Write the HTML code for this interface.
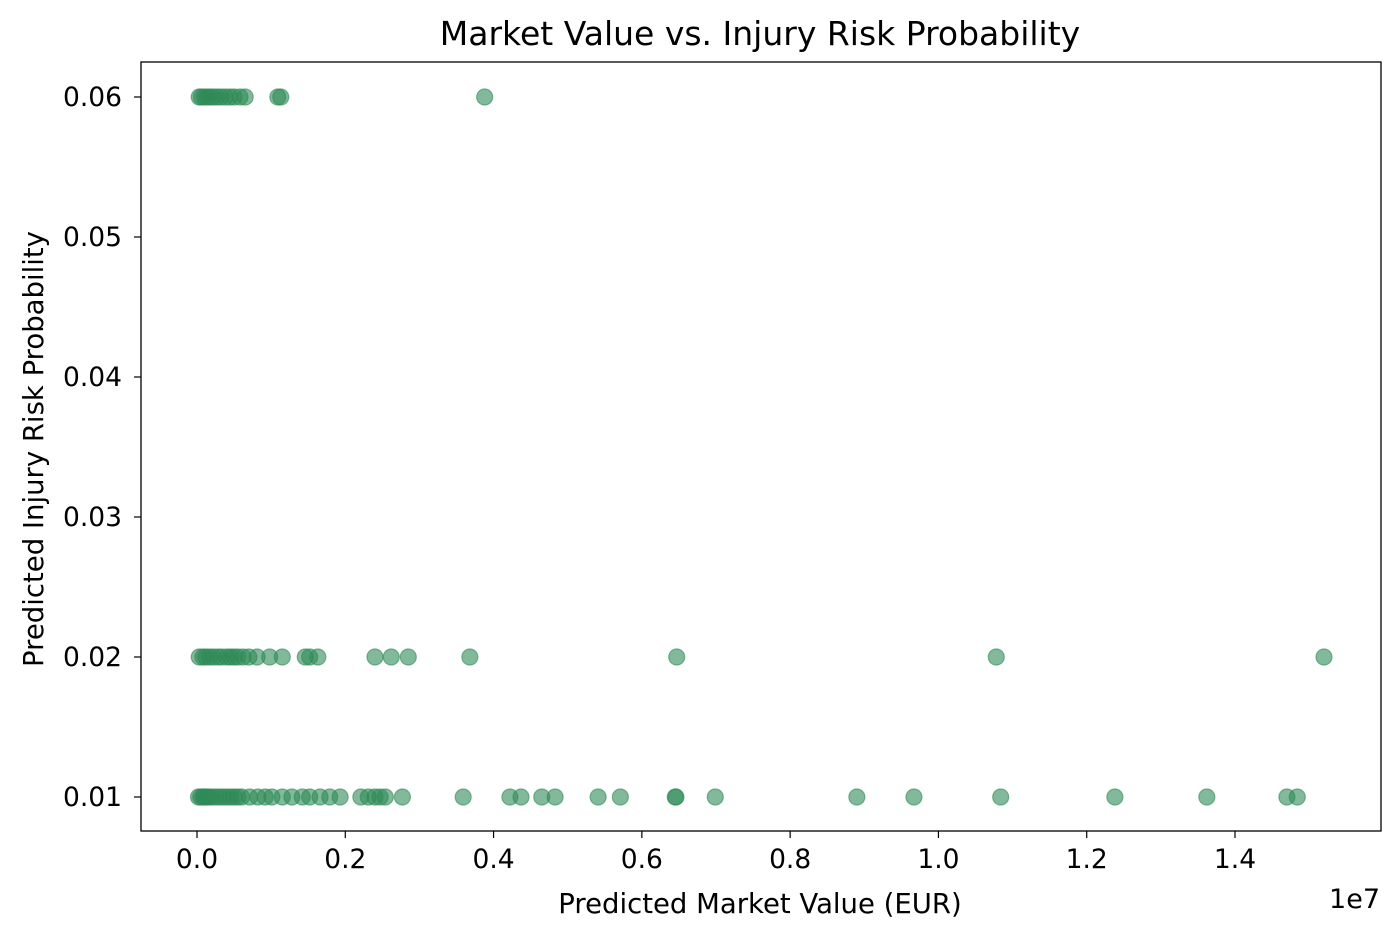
<!DOCTYPE html>
<html><head><meta charset="utf-8"><style>body{margin:0;background:#fff}svg{display:block;font-family:"DejaVu Sans","Liberation Sans",sans-serif}</style></head>
<body>
<svg id="chart" width="1400" height="939">
<rect x="0" y="0" width="1400" height="939" fill="#fff"/>
<g id="points"></g>
<rect x="141" y="62" width="1240" height="769" fill="none" stroke="#000" stroke-width="1.3"/>
<g id="xt"></g><g id="yt"></g>
<text x="760" y="45" style="font-size:33px" text-anchor="middle">Market Value vs. Injury Risk Probability</text>
<text x="760" y="913" style="font-size:27.5px" text-anchor="middle">Predicted Market Value (EUR)</text>
<text x="1380" y="908" style="font-size:27px" text-anchor="end">1e7</text>
<text transform="translate(43,449) rotate(-90)" style="font-size:27.5px" text-anchor="middle">Predicted Injury Risk Probability</text>
</svg>
<script>
const xTicks=[0,0.2,0.4,0.6,0.8,1.0,1.2,1.4];
const yTicks=[0.01,0.02,0.03,0.04,0.05,0.06];
const valuesLow=[0.02,0.05,0.08,0.1,0.13,0.16,0.2,0.25,0.3,0.35,0.4,0.45,0.5,0.55,0.6,0.71,0.82,0.92,1.01,1.15,1.28,1.42,1.52,1.66,1.79,1.93,2.21,2.31,2.40,2.47,2.54,2.77,3.59,4.22,4.37,4.65,4.83,5.41,5.71,6.45,6.46,6.99,8.90,9.67,10.84,12.38,13.62,14.70,14.84];
const valuesMid=[0.03,0.08,0.12,0.17,0.22,0.28,0.33,0.4,0.45,0.5,0.55,0.62,0.7,0.81,0.98,1.15,1.46,1.52,1.63,2.40,2.62,2.85,3.68,6.47,10.78,15.2];
const valuesHigh=[0.03,0.06,0.1,0.14,0.18,0.22,0.27,0.32,0.38,0.44,0.5,0.58,0.65,1.09,1.13,3.88];
const riskLevels=[0.01,0.02,0.06];
const NS="http://www.w3.org/2000/svg";
const X=v=>197+v*741.43; // v in units of 1e7
const Y=p=>797-(p-0.01)*14000;
function mk(t,a,parent){const e=document.createElementNS(NS,t);for(const k in a)e.setAttribute(k,a[k]);parent.appendChild(e);return e;}
const pts=document.getElementById('points');
[valuesLow,valuesMid,valuesHigh].forEach((arr,i)=>{arr.forEach(m=>{
  const c=mk('circle',{cx:X(m/10),cy:Y(riskLevels[i]),r:8,fill:'#2e8b57','fill-opacity':0.6,stroke:'#2e8b57','stroke-opacity':0.6,'stroke-width':1.2},pts);
  
  
});});
const xt=document.getElementById('xt');
xTicks.forEach(t=>{
  mk('line',{x1:X(t),x2:X(t),y1:831,y2:838,stroke:'#000','stroke-width':1.2},xt);
  const tx=mk('text',{x:X(t),y:868,style:'font-size:26.5px','text-anchor':'middle'},xt);tx.textContent=t.toFixed(1);
  
  
});
const yt=document.getElementById('yt');
yTicks.forEach(t=>{
  mk('line',{x1:134,x2:141,y1:Y(t),y2:Y(t),stroke:'#000','stroke-width':1.2},yt);
  const tx=mk('text',{x:122,y:Y(t)+9,style:'font-size:26.5px','text-anchor':'end'},yt);tx.textContent=t.toFixed(2);
  
  
});
</script>
</body></html>
